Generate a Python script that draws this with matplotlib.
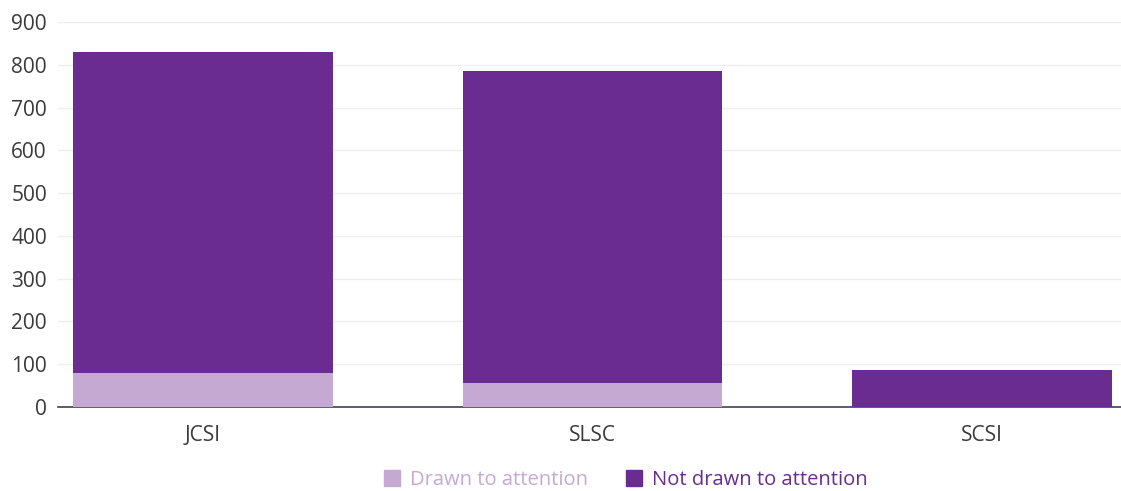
import matplotlib
matplotlib.use("Agg")
import matplotlib.pyplot as plt
from matplotlib.patches import Patch

plt.rcParams['font.family'] = ['Open Sans', 'DejaVu Sans']

categories = ["JCSI", "SLSC", "SCSI"]
drawn = [80, 56, 0]
not_drawn = [750, 729, 87]

light = "#c5a9d3"
dark = "#6a2c91"

fig = plt.figure(figsize=(11.21, 4.91), dpi=100)
ax = fig.add_axes([58 / 1121, 1 - 407 / 491, 1 - 58 / 1121, 385 / 491])

x = range(len(categories))
ax.bar(x, drawn, width=0.667, color=light, zorder=3)
ax.bar(x, not_drawn, bottom=drawn, width=0.667, color=dark, zorder=3)

ax.set_ylim(0, 900)
ax.set_xlim(-0.372, 2.357)
ax.set_yticks(range(0, 901, 100))
ax.set_xticks(list(x))
ax.set_xticklabels(categories)
ax.grid(axis="y", color="#eeeeee", linewidth=1, zorder=0)
for s in ["top", "right", "left"]:
    ax.spines[s].set_visible(False)
ax.spines["bottom"].set_color("#3d4350")
ax.spines["bottom"].set_linewidth(1.2)
ax.tick_params(axis="y", length=0, pad=8, labelsize=15, labelcolor="#3a3a3a")
ax.tick_params(axis="x", length=0, pad=13, labelsize=15, labelcolor="#3a3a3a")

handles = [Patch(color=light), Patch(color=dark)]
leg = fig.legend(handles, ["Drawn to attention", "Not drawn to attention"],
                 loc="center", bbox_to_anchor=(626 / 1121, 1 - 480 / 491), ncol=2,
                 frameon=False, fontsize=14.5, handlelength=0.8, handleheight=0.8,
                 handletextpad=0.5, columnspacing=1.9)
for t, c in zip(leg.get_texts(), [light, dark]):
    t.set_color(c)

fig.savefig("out.png", dpi=100)
